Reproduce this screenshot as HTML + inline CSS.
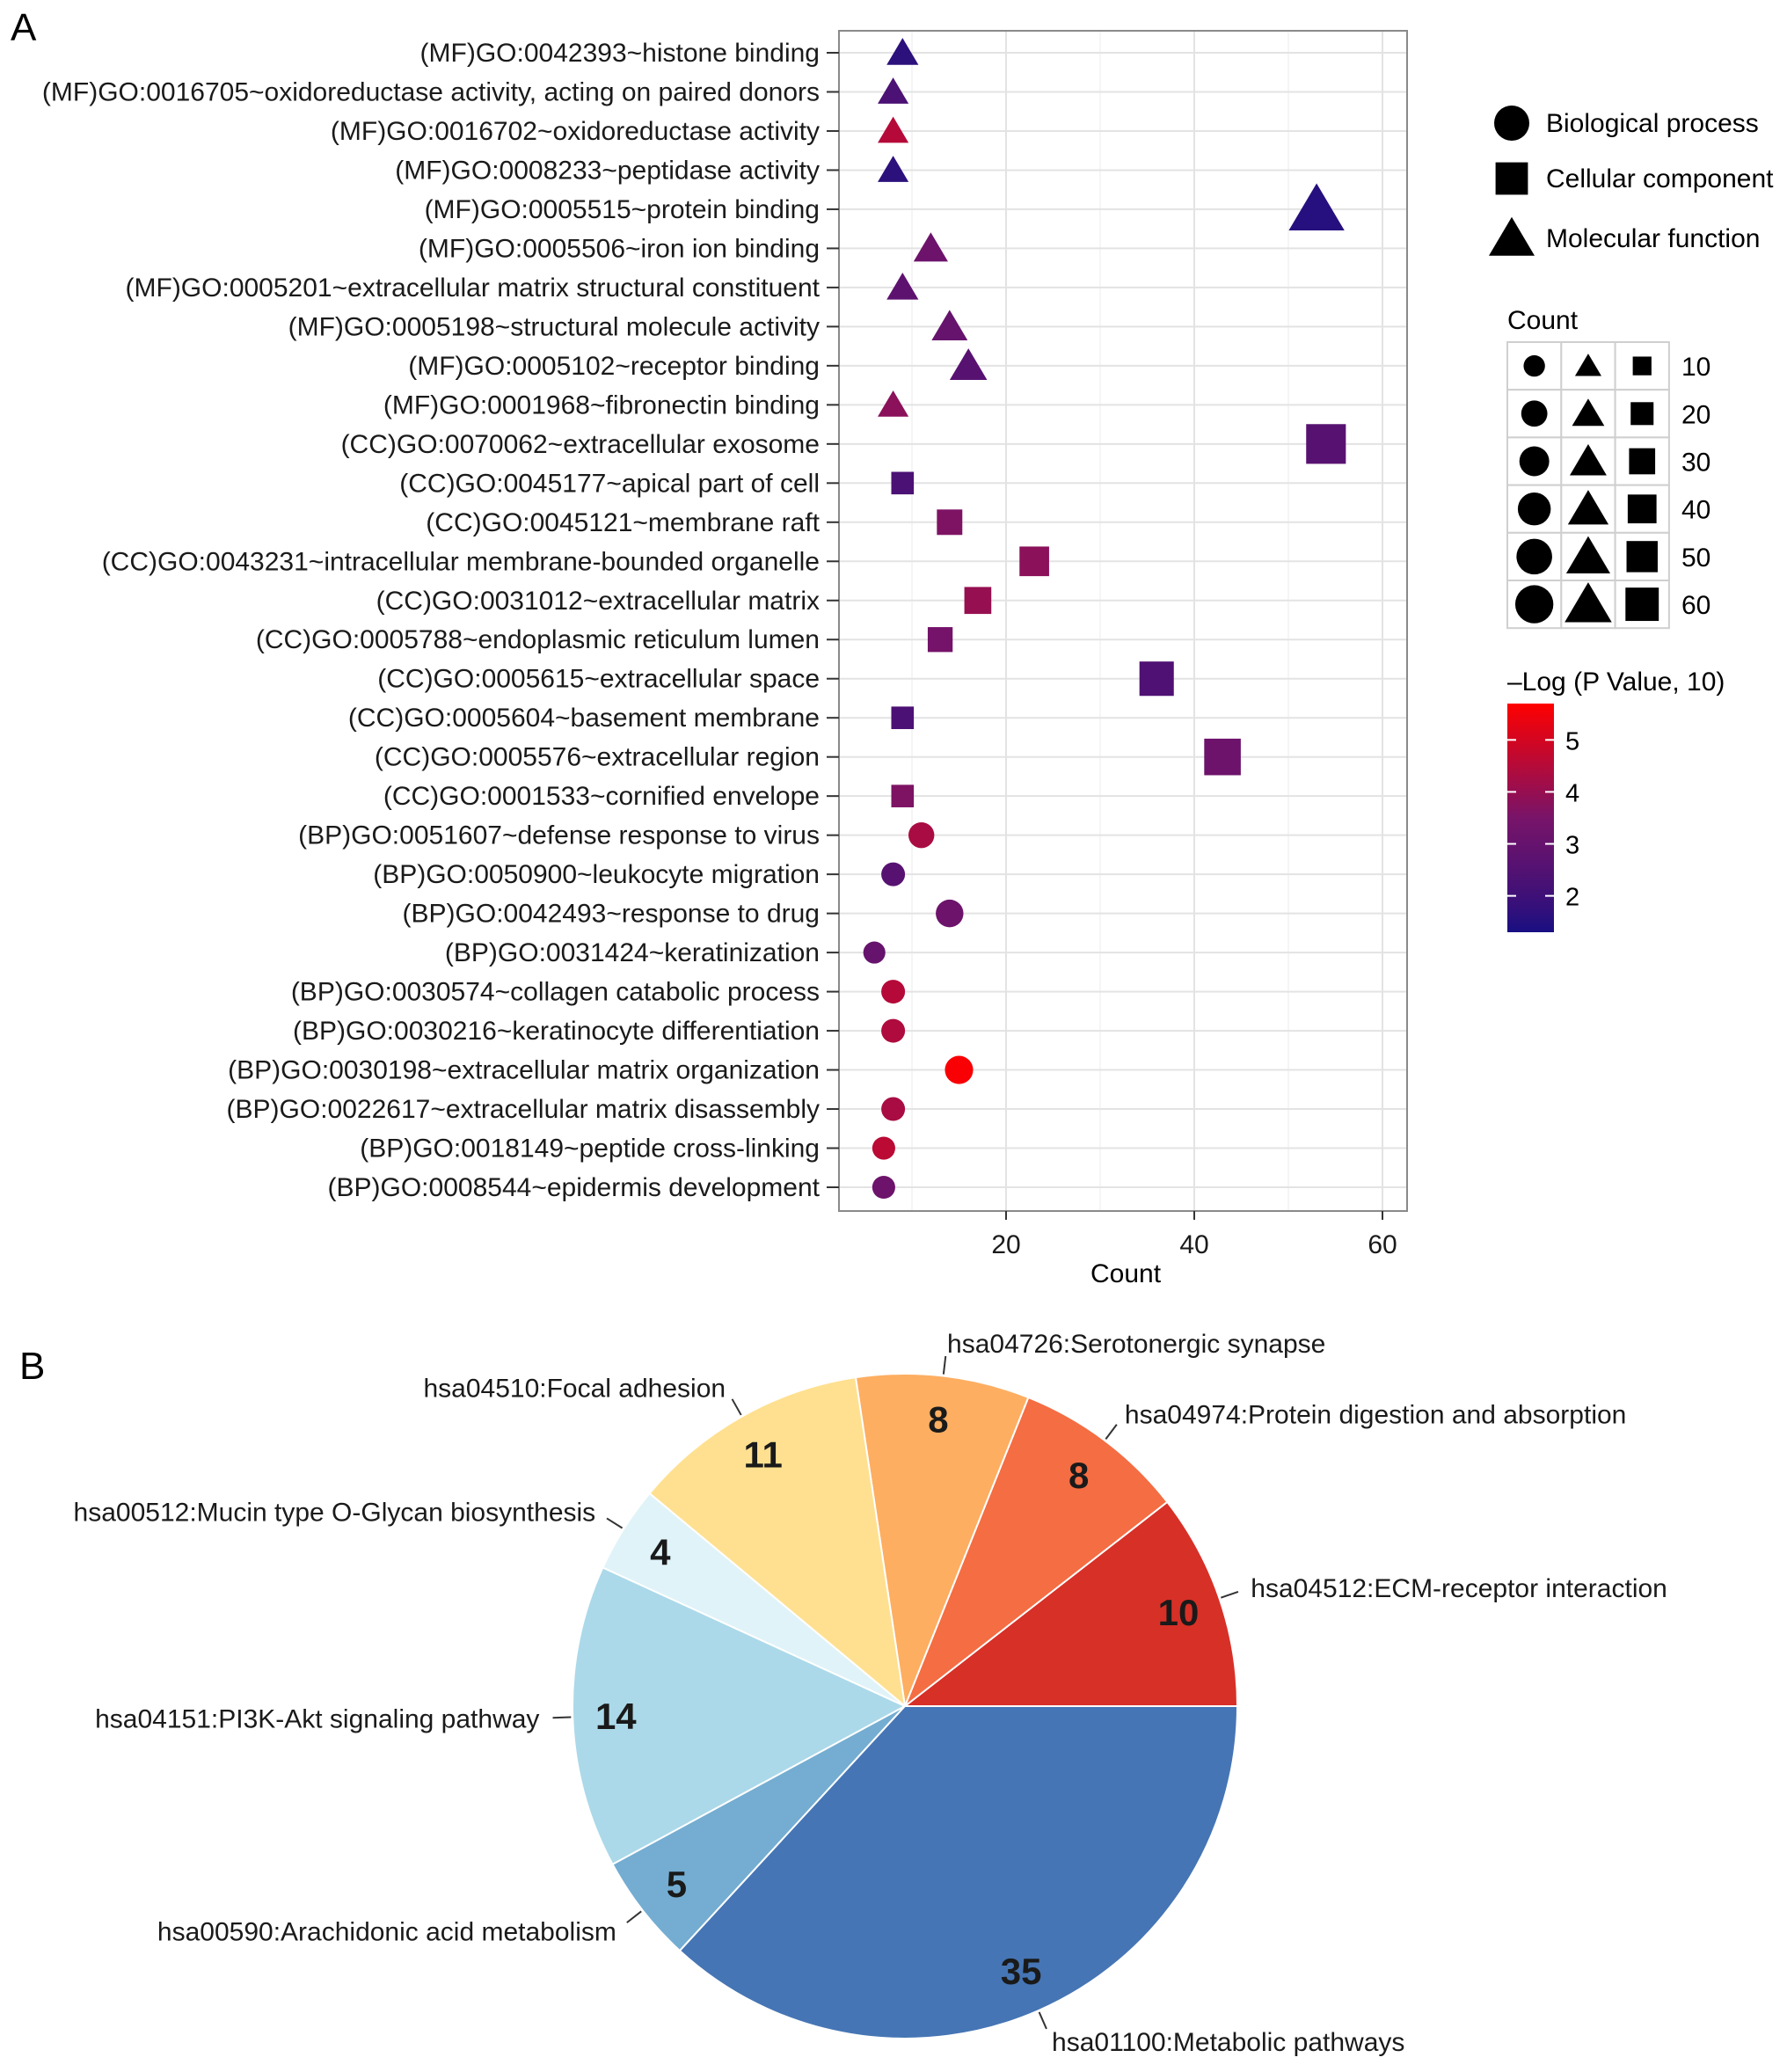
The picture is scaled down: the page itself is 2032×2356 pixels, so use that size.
<!DOCTYPE html>
<html><head><meta charset="utf-8"><style>
html,body{margin:0;padding:0;background:#fff}
svg{display:block;font-family:"Liberation Sans",Arial,sans-serif}
</style></head><body>
<svg id="s" width="2032" height="2356" viewBox="0 0 2032 2356" xmlns="http://www.w3.org/2000/svg">
<text x="12" y="46" font-size="44">A</text>
<text x="22" y="1568" font-size="44">B</text>
<g id="dot"></g>
<g id="legend"></g>
<g id="pie"></g>
</svg>
<script>
const NS="http://www.w3.org/2000/svg";
const terms=["(MF)GO:0042393~histone binding","(MF)GO:0016705~oxidoreductase activity, acting on paired donors","(MF)GO:0016702~oxidoreductase activity","(MF)GO:0008233~peptidase activity","(MF)GO:0005515~protein binding","(MF)GO:0005506~iron ion binding","(MF)GO:0005201~extracellular matrix structural constituent","(MF)GO:0005198~structural molecule activity","(MF)GO:0005102~receptor binding","(MF)GO:0001968~fibronectin binding","(CC)GO:0070062~extracellular exosome","(CC)GO:0045177~apical part of cell","(CC)GO:0045121~membrane raft","(CC)GO:0043231~intracellular membrane-bounded organelle","(CC)GO:0031012~extracellular matrix","(CC)GO:0005788~endoplasmic reticulum lumen","(CC)GO:0005615~extracellular space","(CC)GO:0005604~basement membrane","(CC)GO:0005576~extracellular region","(CC)GO:0001533~cornified envelope","(BP)GO:0051607~defense response to virus","(BP)GO:0050900~leukocyte migration","(BP)GO:0042493~response to drug","(BP)GO:0031424~keratinization","(BP)GO:0030574~collagen catabolic process","(BP)GO:0030216~keratinocyte differentiation","(BP)GO:0030198~extracellular matrix organization","(BP)GO:0022617~extracellular matrix disassembly","(BP)GO:0018149~peptide cross-linking","(BP)GO:0008544~epidermis development"];
const counts=[9,8,8,8,53,12,9,14,16,8,54,9,14,23,17,13,36,9,43,9,11,8,14,6,8,8,15,8,7,7];
const logp=[1.6,2.3,4.5,1.6,1.5,3.2,2.8,3.0,2.6,3.8,2.6,2.3,3.6,3.8,4.0,3.4,2.4,2.3,3.2,3.6,4.3,2.6,3.2,3.0,4.5,4.4,5.6,4.3,4.6,3.2];
const xTicks=[20,40,60];
const legendCounts=[10,20,30,40,50,60];
const cbTicks=[2,3,4,5];
const pieLabels=["hsa04512:ECM-receptor interaction","hsa04974:Protein digestion and absorption","hsa04726:Serotonergic synapse","hsa04510:Focal adhesion","hsa00512:Mucin type O-Glycan biosynthesis","hsa04151:PI3K-Akt signaling pathway","hsa00590:Arachidonic acid metabolism","hsa01100:Metabolic pathways"];
const pieValues=[10,8,8,11,4,14,5,35];
const pieColors=["#d73027","#f46d43","#fdae61","#fee090","#e0f3f8","#abd9e9","#74add1","#4575b4"];

function el(t,a,p){const e=document.createElementNS(NS,t);for(const k in a)e.setAttribute(k,a[k]);(p||document.getElementById('s')).appendChild(e);return e;}
const PL=954,PR=1600,PT=35,PB=1377;
const xs=v=>930+(v)*10.7;
const y0=60,dy=(1350-60)/29;
const ys=i=>y0+i*dy;
function col(v){const t=Math.max(0,Math.min(1,(v-1.3)/(5.7-1.3)));
 const a=[25,15,130],m=[120,20,105],b=[255,0,0];
 let r,g,bb; if(t<0.5){const u=Math.pow(t/0.5,0.8);r=a[0]+(m[0]-a[0])*u;g=a[1]+(m[1]-a[1])*u;bb=a[2]+(m[2]-a[2])*u;}
 else{const u=(t-0.5)/0.5;r=m[0]+(b[0]-m[0])*u;g=m[1]+(b[1]-m[1])*u;bb=m[2]+(b[2]-m[2])*u;}
 return `rgb(${r|0},${g|0},${bb|0})`;}
const sz=c=>13.2+4.88*Math.sqrt(c);
const dot=document.getElementById('dot');
[10,30,50].forEach(v=>{const l=el('line',{x1:xs(v),x2:xs(v),y1:PT,y2:PB,stroke:'#f2f2f2','stroke-width':1.5},dot);});
xTicks.forEach(v=>{const l=el('line',{x1:xs(v),x2:xs(v),y1:PT,y2:PB,stroke:'#e3e3e3','stroke-width':2},dot);});
terms.forEach((t,i)=>{const l=el('line',{x1:PL,x2:PR,y1:ys(i),y2:ys(i),stroke:'#e3e3e3','stroke-width':2},dot);});
const fr=el('rect',{x:PL,y:PT,width:PR-PL,height:PB-PT,fill:'none',stroke:'#8a8a8a','stroke-width':2},dot);

terms.forEach((t,i)=>{
 const tx=el('text',{x:932,y:ys(i)+10,'font-size':30,'text-anchor':'end',fill:'#1a1a1a'},dot);tx.textContent=t;
 
 const tk=el('line',{x1:940,x2:PL,y1:ys(i),y2:ys(i),stroke:'#333','stroke-width':2},dot);
 
});
xTicks.forEach(v=>{
 el('line',{x1:xs(v),x2:xs(v),y1:PB,y2:PB+10,stroke:'#333','stroke-width':2},dot);
 const tx=el('text',{x:xs(v),y:1425,'font-size':30,'text-anchor':'middle',fill:'#1a1a1a'},dot);tx.textContent=v;
 
});
const xt=el('text',{x:1280,y:1458,'font-size':30,'text-anchor':'middle'},dot);xt.textContent='Count';

function shape(kind,cx,cy,d,fill,parent){
 let e;
 if(kind==='BP')e=el('circle',{cx,cy,r:d/2,fill},parent);
 else if(kind==='CC'){const s=d*0.92;e=el('rect',{x:cx-s/2,y:cy-s/2,width:s,height:s,fill},parent);}
 else{const w=d*1.3,h=d*1.1;e=el('polygon',{points:`${cx-w/2},${cy+h*0.45} ${cx+w/2},${cy+h*0.45} ${cx},${cy-h*0.55}`,fill},parent);}
 return e;}
terms.forEach((t,i)=>{
 const kind=t.substr(1,2);
 const m=shape(kind,xs(counts[i]),ys(i),sz(counts[i]),col(logp[i]),dot);
 
});
const lg=document.getElementById('legend');
[['BP','Biological process',140],['CC','Cellular component',203],['MF','Molecular function',271]].forEach(([k,n,y])=>{
 const m=shape(k,1719,y,40,'#000',lg);
 const tx=el('text',{x:1758,y:y+10,'font-size':30},lg);tx.textContent=n;
 
});
const ct=el('text',{x:1714,y:374,'font-size':30},lg);ct.textContent='Count';

const gx=1714,gy=389,cw=61.3,rh=54.2;
legendCounts.forEach((c,r)=>{
 ['BP','MF','CC'].forEach((k,j)=>{
  el('rect',{x:gx+j*cw,y:gy+r*rh,width:cw,height:rh,fill:'#fff',stroke:'#cfcfcf','stroke-width':2},lg);
  const d=sz(c)*(k==='BP'?1:0.95);
  const m=shape(k,gx+j*cw+cw/2,gy+r*rh+rh/2,d*0.85,'#000',lg);
  
 });
 const tx=el('text',{x:1912,y:gy+r*rh+rh/2+11,'font-size':30},lg);tx.textContent=c;
 
});
const lt=el('text',{x:1714,y:785,'font-size':30},lg);lt.textContent='\u2013Log (P Value, 10)';

const defs=el('defs',{},lg);const gr=el('linearGradient',{id:'cg',x1:0,y1:1,x2:0,y2:0},defs);
for(let k=0;k<=10;k++){el('stop',{offset:k/10,'stop-color':col(1.3+k*0.44)},gr);}
const cb=el('rect',{x:1714,y:800,width:53,height:260,fill:'url(#cg)'},lg);

const cy=v=>1060-(v-1.3)*59.1;
cbTicks.forEach(v=>{
 el('line',{x1:1714,x2:1724,y1:cy(v),y2:cy(v),stroke:'#fff','stroke-width':2},lg);
 el('line',{x1:1757,x2:1767,y1:cy(v),y2:cy(v),stroke:'#fff','stroke-width':2},lg);
 const tx=el('text',{x:1780,y:cy(v)+11,'font-size':29},lg);tx.textContent=v;
 
});
const pg=document.getElementById('pie');
const CX=1029,CY=1940,R=378;
const tot=pieValues.reduce((a,b)=>a+b,0);
let cum=0;
pieValues.forEach((v,i)=>{
 const a0=cum/tot*2*Math.PI,a1=(cum+v)/tot*2*Math.PI;cum+=v;
 const p=(a,r)=>[CX+r*Math.cos(a),CY-r*Math.sin(a)];
 const [x0,y0_]=p(a0,R),[x1,y1]=p(a1,R);
 const sl=el('path',{d:`M${CX},${CY} L${x0},${y0_} A${R},${R} 0 ${a1-a0>Math.PI?1:0} 0 ${x1},${y1} Z`,fill:pieColors[i],stroke:'#fff','stroke-width':2},pg);
 
 const am=(a0+a1)/2;
 const [vx,vy]=p(am,R*0.87);
 const vt=el('text',{x:vx,y:vy+15,'font-size':42,'font-weight':'bold','text-anchor':'middle',fill:'#1a1a1a'},pg);vt.textContent=v;
 
 const [l0x,l0y]=p(am,R*1.005),[l1x,l1y]=p(am,R*1.06);
 const ln=el('line',{x1:l0x,y1:l0y,x2:l1x,y2:l1y,stroke:'#333','stroke-width':2},pg);
 
 const [tx,ty]=p(am,R*1.1);
 const c=Math.cos(am);
 const t=el('text',{x:tx,y:ty+11,'font-size':30,'text-anchor':c>0?'start':'end',fill:'#1a1a1a'},pg);t.textContent=pieLabels[i];
 
});
</script>
</body></html>
